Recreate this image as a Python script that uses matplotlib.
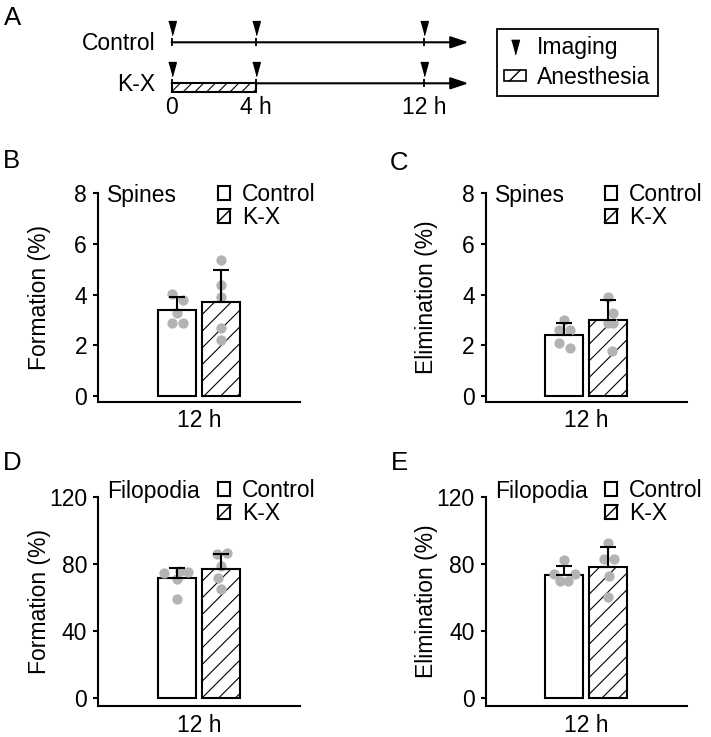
import numpy as np
import matplotlib
matplotlib.use("Agg")
import matplotlib.pyplot as plt
from matplotlib.patches import Patch, Rectangle
from matplotlib.lines import Line2D
from matplotlib.transforms import ScaledTranslation
from matplotlib.legend_handler import HandlerBase

plt.rcParams['font.family'] = ['Liberation Sans', 'DejaVu Sans']
plt.rcParams['hatch.linewidth'] = 0.8

# ---------------- data ----------------
groups = ['Control', 'K-X']
timepoint_label = '12 h'

# Panel A timeline
imaging_times = [0, 4, 12]          # hours
anesthesia_span = [0, 4]            # hours
timeline_end = 14.1                 # hours (arrow tip)
time_labels = ['0', '4 h', '12 h']

# Panel B: spine formation (%)
b_means = [3.40, 3.70]
b_err = [0.50, 1.27]
b_ctrl_pts = [4.03, 3.79, 3.29, 2.89, 2.89]
b_kx_pts = [5.37, 4.38, 3.92, 2.67, 2.21]
b_ctrl_jit = [-0.12, 0.13, 0.0, -0.12, 0.13]
b_kx_jit = [0.0, 0.0, 0.0, 0.0, 0.0]

# Panel C: spine elimination (%)
c_means = [2.42, 3.00]
c_err = [0.48, 0.77]
c_ctrl_pts = [3.00, 2.62, 2.62, 2.08, 1.90]
c_kx_pts = [3.92, 3.29, 2.89, 2.89, 1.79]
c_ctrl_jit = [0.0, -0.11, 0.12, -0.11, 0.12]
c_kx_jit = [0.0, 0.12, -0.01, 0.12, 0.08]

# Panel D: filopodia formation (%)
d_means = [71.4, 77.0]
d_err = [6.4, 8.7]
d_ctrl_pts = [74.5, 75.5, 75.0, 71.0, 59.0]
d_kx_pts = [86.0, 86.3, 78.8, 71.4, 64.9]
d_ctrl_jit = [-0.30, 0.07, 0.26, 0.0, 0.0]
d_kx_jit = [-0.10, 0.13, 0.0, -0.06, 0.0]

# Panel E: filopodia elimination (%)
e_means = [73.4, 78.4]
e_err = [5.4, 11.5]
e_ctrl_pts = [82.5, 74.0, 74.0, 70.0, 70.0]
e_kx_pts = [92.7, 82.7, 82.7, 72.8, 60.5]
e_ctrl_jit = [0.0, -0.24, 0.24, -0.09, 0.09]
e_kx_jit = [0.0, -0.09, 0.14, 0.03, 0.0]

# ---------------- figure ----------------
W, H = 711, 737
fig = plt.figure(figsize=(W / 100, H / 100), dpi=100)
FS = 16.5


class BoxHandler(HandlerBase):
    """Open box legend key; hatched keys get a single 45-degree stroke."""
    def create_artists(self, legend, orig_handle, xdescent, ydescent,
                       width, height, fontsize, trans):
        x0, y0 = -xdescent, -ydescent
        arts = [Rectangle((x0, y0), width, height, facecolor='white',
                          edgecolor='black', lw=orig_handle.get_linewidth(),
                          transform=trans)]
        if orig_handle.get_hatch():
            cx = x0 + width / 2
            arts.append(Line2D([cx - height / 2, cx + height / 2], [y0, y0 + height],
                               color='black', lw=1.0, transform=trans))
        return arts


def px_axes(x0, x1, ytop, ybot):
    return fig.add_axes([x0 / W, 1 - ybot / H, (x1 - x0) / W, (ybot - ytop) / H])

# ---------- Panel A ----------
axA = px_axes(100, 480, 10, 125)
px_per_h = 21.05
x0px = 171.7
axA.set_xlim((100 - x0px) / px_per_h, (480 - x0px) / px_per_h)
axA.set_ylim(-(125 - 83.3) / 41, 1 + (42.3 - 10) / 41)
axA.axis('off')

rows = {'Control': 1, 'K-X': 0}
tri = [(-0.55, 1), (0.55, 1), (0, -1)]
tri_off = axA.transData + ScaledTranslation(0, 0.14, fig.dpi_scale_trans)
for name, yv in rows.items():
    axA.annotate('', xy=(timeline_end, yv), xytext=(0, yv),
                 arrowprops=dict(arrowstyle='-|>,head_length=10.8,head_width=3.6',
                                 lw=1.5, color='black', mutation_scale=1,
                                 shrinkA=0, shrinkB=0))
    axA.plot(imaging_times, [yv] * len(imaging_times), linestyle='none',
             marker=tri, markersize=10, color='black', transform=tri_off)
    axA.plot(imaging_times, [yv] * len(imaging_times), linestyle='none',
             marker='|', markersize=6, markeredgewidth=1.3, color='black')
    axA.annotate(name, xy=(0, yv), xytext=(-12, -5.2), textcoords='offset points',
                 ha='right', va='baseline', fontsize=FS)

box_h = 8.4 / 41
rect = Rectangle((anesthesia_span[0], -box_h), anesthesia_span[1] - anesthesia_span[0],
                 box_h, facecolor='white', edgecolor='black', lw=1.5, zorder=3)
axA.add_patch(rect)
sp = 11.7 / px_per_h
run = 8.4 / px_per_h
for k in range(-1, 9):
    xs = anesthesia_span[0] + k * sp
    ln, = axA.plot([xs, xs + run], [-box_h, 0], color='black', lw=0.8, zorder=3.5)
    ln.set_clip_path(rect)
for t, lab in zip(imaging_times, time_labels):
    axA.annotate(lab, xy=(t, 0), xytext=(0, -22.1), textcoords='offset points',
                 ha='center', va='baseline', fontsize=FS)

legA_handles = [Line2D([], [], linestyle='none', marker=tri, markersize=10.3, color='black'),
                Patch(facecolor='white', edgecolor='black', hatch='/', lw=1.2)]
legA = fig.legend(legA_handles, ['Imaging', 'Anesthesia'], loc='upper left',
                  bbox_to_anchor=(497 / W, 1 - 29 / H), fontsize=FS, frameon=True,
                  fancybox=False, edgecolor='black', framealpha=1, borderpad=0.3,
                  labelspacing=0.3, handlelength=0.96, handleheight=0.35,
                  handletextpad=0.5, borderaxespad=0,
                  handler_map={Patch: BoxHandler()})
legA.get_frame().set_linewidth(1.3)

# ---------- bar panels ----------
xpos = np.array([0, 1])
bar_w = 0.864

def bar_panel(ax, means, errs, ctrl_pts, kx_pts, ctrl_jit, kx_jit,
              ylim, yticks, ylabel, title, title_y, leg_y):
    bars = ax.bar(xpos, means, width=bar_w, color='white', edgecolor='black',
                  linewidth=1.5, zorder=2)
    bars[1].set_hatch('//')
    for i, (pts, jit) in enumerate([(ctrl_pts, ctrl_jit), (kx_pts, kx_jit)]):
        ax.plot(xpos[i] + np.array(jit), pts, linestyle='none', marker='o',
                markersize=7.4, color='#b3b3b3', markeredgewidth=0, zorder=3)
    ax.errorbar(xpos, means, yerr=[np.zeros(2), errs], fmt='none', ecolor='black',
                elinewidth=1.5, capsize=6, capthick=1.5, zorder=4)
    ax.set_xlim(-1.795, 2.795)
    ax.set_ylim(*ylim)
    ax.set_yticks(yticks)
    ax.set_xticks([0.5])
    ax.set_xticklabels([timepoint_label])
    ax.tick_params(axis='y', direction='out', length=3.6, width=1.5, pad=4.3,
                   labelsize=FS)
    ax.tick_params(axis='x', length=0, pad=5.5, labelsize=FS)
    for s in ['top', 'right']:
        ax.spines[s].set_visible(False)
    for s in ['left', 'bottom']:
        ax.spines[s].set_linewidth(1.5)
    ax.set_ylabel(ylabel, fontsize=FS)
    ax.yaxis.set_label_coords(-0.235, 0.5)
    ax.text(0.045, title_y, title, transform=ax.transAxes, fontsize=FS,
            ha='left', va='baseline')
    handles = [Patch(facecolor='white', edgecolor='black', lw=1.5),
               Patch(facecolor='white', edgecolor='black', lw=1.5, hatch='/')]
    ax.legend(handles, groups, loc='center left', bbox_to_anchor=(0.594, leg_y),
              frameon=False, fontsize=FS, borderpad=0, borderaxespad=0,
              handlelength=0.54, handleheight=0.54, handletextpad=0.5,
              labelspacing=0.0, handler_map={Patch: BoxHandler()})

axB = px_axes(98, 300, 193.3, 401.7)
bar_panel(axB, b_means, b_err, b_ctrl_pts, b_kx_pts, b_ctrl_jit, b_kx_jit,
          (-0.225, 8), [0, 2, 4, 6, 8], 'Formation (%)', 'Spines', 0.960, 0.940)
axC = px_axes(485.7, 686.7, 193.3, 401.7)
bar_panel(axC, c_means, c_err, c_ctrl_pts, c_kx_pts, c_ctrl_jit, c_kx_jit,
          (-0.225, 8), [0, 2, 4, 6, 8], 'Elimination (%)', 'Spines', 0.960, 0.940)
axD = px_axes(98, 300, 496.7, 706)
bar_panel(axD, d_means, d_err, d_ctrl_pts, d_kx_pts, d_ctrl_jit, d_kx_jit,
          (-4.6, 120), [0, 40, 80, 120], 'Formation (%)', 'Filopodia', 0.992, 0.975)
axE = px_axes(485.7, 686.7, 496.7, 706)
bar_panel(axE, e_means, e_err, e_ctrl_pts, e_kx_pts, e_ctrl_jit, e_kx_jit,
          (-4.6, 120), [0, 40, 80, 120], 'Elimination (%)', 'Filopodia', 0.992, 0.975)

# panel letters
for lab, (xp, yp) in {'A': (4, 25), 'B': (3, 168), 'C': (390, 170),
                      'D': (3, 470), 'E': (391, 470)}.items():
    fig.text(xp / W, 1 - yp / H, lab, fontsize=18.5, ha='left', va='baseline')

fig.savefig('out.png', dpi=100)
